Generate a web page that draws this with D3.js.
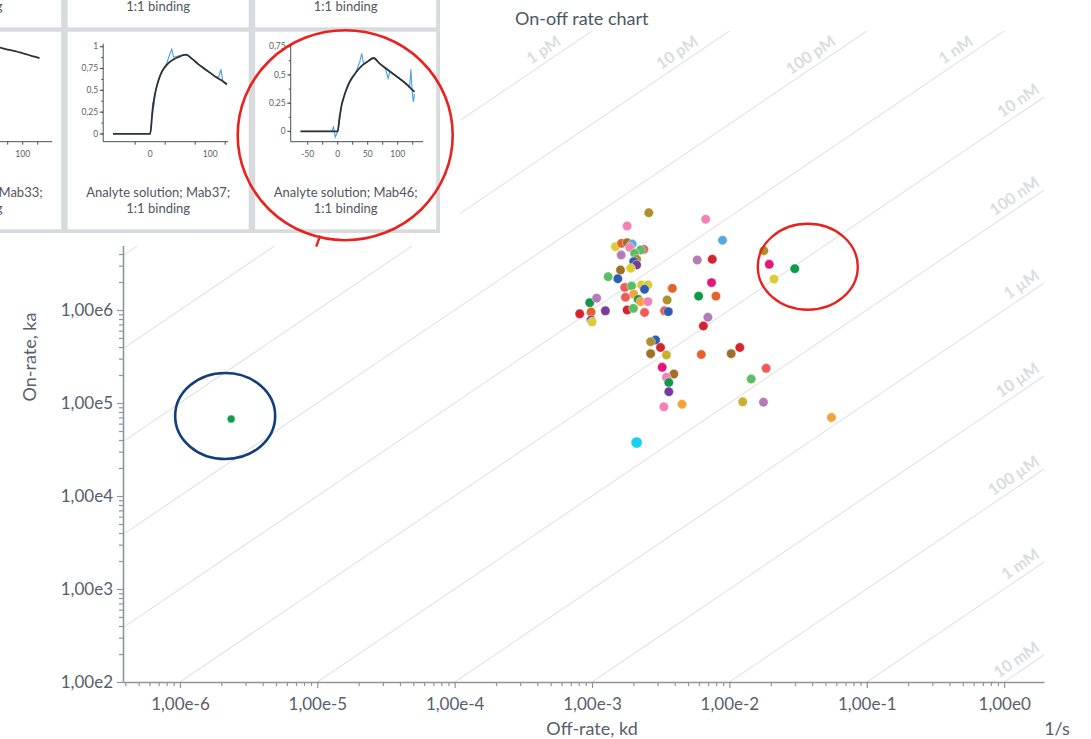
<!DOCTYPE html>
<html>
<head>
<meta charset="utf-8">
<script src="https://cdn.jsdelivr.net/npm/d3@7"></script>
<style>
  body { margin: 0; background: #ffffff; }
  svg { display: block; font-family: Lato, "Open Sans", sans-serif; }
</style>
</head>
<body>
<svg id="chart" width="1091" height="739"></svg>
<script>
// ---- Kinetic constants per sample: off-rate kd (1/s), on-rate ka (1/Ms) ----
const offRates = [2.59e-3, 1.80e-3, 6.72e-3, 8.91e-3, 1.48e-3, 1.64e-3, 1.80e-3, 1.96e-3, 1.88e-3, 2.38e-3,
  2.26e-3, 2.04e-3, 1.63e-3, 2.11e-3, 2.01e-3, 2.11e-3, 1.61e-3, 1.91e-3, 1.31e-3, 1.54e-3,
  1.73e-3, 1.94e-3, 2.29e-3, 2.55e-3, 2.41e-3, 2.01e-3, 1.75e-3, 2.17e-3, 2.26e-3, 2.55e-3,
  3.84e-3, 3.52e-3, 3.37e-3, 3.59e-3, 1.80e-3, 2.00e-3, 2.41e-3, 9.62e-4, 1.08e-3, 8.13e-4,
  9.84e-4, 1.25e-3, 9.84e-4, 1.00e-3, 5.83e-3, 7.50e-3, 7.41e-3, 5.97e-3, 7.98e-3, 6.97e-3,
  6.46e-3, 1.78e-2, 1.95e-2, 2.11e-2, 2.99e-2, 1.19e-2, 1.03e-2, 6.24e-3, 1.85e-2, 1.44e-2,
  1.25e-2, 1.77e-2, 5.53e-2, 2.90e-3, 2.67e-3, 3.15e-3, 2.67e-3, 3.48e-3, 3.24e-3, 3.94e-3,
  3.48e-3, 3.62e-3, 3.62e-3, 3.33e-3, 4.52e-3, 2.11e-3, 2.36e-6];

const onRates = [1.11e7, 8.0e6, 9.45e6, 5.62e6, 4.79e6, 5.21e6, 5.29e6, 5.12e6, 4.72e6, 4.49e6,
  4.42e6, 4.07e6, 3.90e6, 3.51e6, 3.31e6, 3.05e6, 2.69e6, 2.81e6, 2.28e6, 2.17e6,
  1.75e6, 1.81e6, 1.86e6, 1.86e6, 1.67e6, 1.48e6, 1.37e6, 1.30e6, 1.23e6, 1.23e6,
  1.71e6, 1.28e6, 9.8e5, 9.6e5, 1.0e6, 1.04e6, 9.4e5, 1.20e6, 1.34e6, 9.1e5,
  9.5e5, 9.8e5, 7.8e5, 7.43e5, 3.45e6, 3.51e6, 1.97e6, 1.41e6, 1.41e6, 8.35e5,
  6.73e5, 4.34e6, 3.10e6, 2.15e6, 2.78e6, 3.95e5, 3.39e5, 3.32e5, 2.36e5, 1.81e5,
  1.03e5, 1.02e5, 6.98e4, 4.76e5, 4.56e5, 3.95e5, 3.39e5, 3.28e5, 2.42e5, 2.05e5,
  1.89e5, 1.66e5, 1.32e5, 9.1e4, 9.7e4, 3.76e4, 6.73e4];

// colour group of each sample (index into groupColors)
const sampleGroup = [4, 12, 12, 9, 3, 1, 5, 9, 12, 14,
  7, 7, 11, 4, 8, 10, 5, 3, 7, 8,
  14, 7, 3, 3, 8, 2, 14, 6, 2, 12,
  1, 4, 14, 8, 0, 7, 14, 6, 11, 0,
  1, 10, 10, 3, 11, 0, 13, 6, 1, 11,
  0, 4, 13, 3, 6, 0, 5, 1, 14, 7,
  16, 11, 2, 8, 4, 0, 5, 16, 13, 5,
  12, 6, 10, 12, 2, 15, 6];

const groupColors = ["#d3252f", "#e5622a", "#f8a03a", "#dccb35", "#ad8f2c", "#a06f2a", "#0e9a48",
  "#5dbd66", "#2b5db2", "#5ba8df", "#773c9b", "#b47bb8", "#f282b4", "#e2177b", "#ef5b58", "#19cff2", "#c6b22e"];

// ---- Iso-affinity lines (KD = kd / ka, in M) ----
const affinityValues = [1e-13, 1e-12, 1e-11, 1e-10, 1e-9, 1e-8, 1e-7, 1e-6, 1e-5, 1e-4, 1e-3, 1e-2];
const affinityLabels = [null, "1 pM", "10 pM", "100 pM", "1 nM", "10 nM", "100 nM", "1 µM", "10 µM", "100 µM", "1 mM", "10 mM"];

// ---- Axes ----
const offRateDomain = [3.85e-7, 1.95];
const onRateDomain = [1e2, 1e9];
const xMajorTicks = [1e-6, 1e-5, 1e-4, 1e-3, 1e-2, 1e-1, 1e0];
const yMajorTicks = [1e2, 1e3, 1e4, 1e5, 1e6];

// ---- Sensorgram thumbnails (time in s, response normalised) ----
const sensorCaptions = ["Analyte solution; Mab33;", "Analyte solution; Mab37;", "Analyte solution; Mab46;"];
const sensorSubCaption = "1:1 binding";
const fitTime = [-62, 0, 3, 6, 10, 15, 20, 30, 40, 50, 60, 70, 80, 90, 100, 110, 120, 128];
const mab33Fit = [0, 0, 0.3, 0.5, 0.68, 0.82, 0.9, 0.95, 0.975, 0.99, 0.99, 0.975, 0.96, 0.945, 0.925, 0.905, 0.885, 0.87];
const mab37Fit = [0, 0, 0.2, 0.38, 0.52, 0.64, 0.72, 0.81, 0.86, 0.89, 0.91, 0.86, 0.8, 0.75, 0.7, 0.65, 0.61, 0.57];
const mab46Fit = [0, 0, 0.12, 0.22, 0.3, 0.38, 0.44, 0.52, 0.58, 0.62, 0.65, 0.6, 0.56, 0.52, 0.48, 0.44, 0.39, 0.35];
const mab37RawTime = [0, 2, 4, 6, 9, 14, 20, 27, 33, 36, 39, 45, 55, 62, 75, 90, 100, 108, 114, 118, 121, 124, 127];
const mab37RawResp = [0, 0.1, 0.36, 0.33, 0.5, 0.62, 0.73, 0.8, 0.92, 0.97, 0.88, 0.89, 0.91, 0.9, 0.83, 0.74, 0.7, 0.66, 0.65, 0.74, 0.6, 0.58, 0.56];
const mab46RawTime = [-62, -10, -7, -4, 0, 3, 7, 12, 20, 30, 37, 40, 43, 50, 60, 70, 80, 84, 87, 95, 105, 115, 120, 122, 124, 126, 128];
const mab46RawResp = [0, 0, 0.04, -0.05, 0.0, 0.1, 0.25, 0.33, 0.43, 0.52, 0.62, 0.69, 0.6, 0.62, 0.65, 0.6, 0.55, 0.47, 0.53, 0.5, 0.46, 0.42, 0.4, 0.55, 0.36, 0.26, 0.33];

// ======================================================================
const svg = d3.select("#chart");
const plot = { left: 123, right: 1044, top: 31, bottom: 682 };
const axisColor = "#8d969e";
const textColor = "#56606a";

const x = d3.scaleLog().domain(offRateDomain).range([plot.left, plot.right]);
const y = d3.scaleLog().domain(onRateDomain).range([plot.bottom, plot.top]);

const defs = svg.append("defs");
defs.append("clipPath").attr("id", "plot-clip")
  .append("rect").attr("x", plot.left).attr("y", plot.top)
  .attr("width", plot.right - plot.left).attr("height", plot.bottom - plot.top);

// iso-affinity diagonals
const [kdMin, kdMax] = offRateDomain;
const isoG = svg.append("g");
isoG.append("g").attr("clip-path", "url(#plot-clip)")
  .selectAll("line").data(affinityValues).join("line")
  .attr("x1", x(kdMin)).attr("y1", KD => y(kdMin / KD))
  .attr("x2", x(kdMax)).attr("y2", KD => y(kdMax / KD))
  .attr("stroke", "#e2e2e2").attr("stroke-width", 1.1);

const slopeAngle = Math.atan2(y(1e6) - y(1e5), x(1e-2) - x(1e-3)) * 180 / Math.PI;
const labelTop = plot.top + 18;
isoG.selectAll("text").data(affinityValues.map((v, i) => ({ v, label: affinityLabels[i] })).filter(d => d.label))
  .join("text")
  .attr("transform", d => {
    let px = x(y.invert(labelTop) * d.v), py = labelTop;
    if (px > plot.right) { px = plot.right; py = y(kdMax / d.v); }
    return `translate(${px},${py}) rotate(${slopeAngle})`;
  })
  .attr("dy", -6)
  .attr("text-anchor", "end")
  .attr("font-size", 16).attr("font-weight", 700)
  .attr("fill", "#dadcde")
  .text(d => d.label);

// axes
const fmt = v => d3.format(".2e")(v).replace(".", ",").replace("+", "");
const minorX = [], minorY = [];
for (let e = -7; e <= 0; e++) for (let k = 2; k <= 9; k++) {
  const v = k * Math.pow(10, e);
  if (v >= kdMin && v <= kdMax) minorX.push(v);
}
for (let e = 2; e <= 8; e++) for (let k = 2; k <= 9; k++) minorY.push(k * Math.pow(10, e));

function styleAxis(g) {
  g.attr("font-family", null).attr("font-size", null);
  g.select(".domain").attr("stroke", axisColor).attr("stroke-width", 1.6);
  g.selectAll(".tick line").attr("stroke", axisColor).attr("stroke-width", 1.2);
  g.selectAll(".tick text").attr("fill", textColor).attr("font-size", 17);
}

svg.append("g").attr("transform", `translate(0,${plot.bottom})`)
  .call(d3.axisBottom(x).tickValues(minorX).tickSize(4).tickSizeOuter(0).tickFormat(""))
  .call(styleAxis).call(g => g.select(".domain").remove());
svg.append("g").attr("transform", `translate(0,${plot.bottom})`)
  .call(d3.axisBottom(x).tickValues(xMajorTicks).tickSize(6).tickSizeOuter(0).tickPadding(10).tickFormat(fmt))
  .call(styleAxis);

svg.append("g").attr("transform", `translate(${plot.left},0)`)
  .call(d3.axisLeft(y).tickValues(minorY).tickSize(4).tickSizeOuter(0).tickFormat(""))
  .call(styleAxis).call(g => g.select(".domain").remove());
svg.append("g").attr("transform", `translate(${plot.left},0)`)
  .call(d3.axisLeft(y).tickValues(yMajorTicks).tickSize(6).tickSizeOuter(0).tickPadding(4).tickFormat(fmt))
  .call(styleAxis);

// axis titles
svg.append("text").attr("x", x(1e-3)).attr("y", 735).attr("text-anchor", "middle")
  .attr("font-size", 18).attr("fill", textColor).text("Off-rate, kd");
svg.append("text").attr("x", 1057).attr("y", 735).attr("text-anchor", "middle")
  .attr("font-size", 18).attr("fill", textColor).text("1/s");
svg.append("text").attr("transform", "translate(36,357) rotate(-90)").attr("text-anchor", "middle")
  .attr("font-size", 18).attr("fill", textColor).text("On-rate, ka");

// samples
const samples = offRates.map((kd, i) => ({ kd, ka: onRates[i], group: sampleGroup[i] }));
svg.append("g").selectAll("circle").data(samples).join("circle")
  .attr("cx", d => x(d.kd)).attr("cy", d => y(d.ka))
  .attr("r", d => d.group === 15 ? 5.6 : (d.kd < 1e-5 ? 3.9 : 4.7))
  .attr("fill", d => groupColors[d.group])
  .attr("stroke", "#ffffff").attr("stroke-opacity", 0.6).attr("stroke-width", 0.7);

// ---- Sensorgram thumbnail panel ----
const panel = { width: 440, height: 233.3 };
const card = { w: 181, h: 197.6, pitchX: 187.5, pitchY: 202, x0: 67.7, y0: 31.7 };
svg.append("rect").attr("x", 0).attr("y", 0).attr("width", 460).attr("height", 246).attr("fill", "#ffffff");
defs.append("clipPath").attr("id", "panel-clip")
  .append("rect").attr("width", panel.width).attr("height", panel.height);
const panelG = svg.append("g").attr("clip-path", "url(#panel-clip)");
panelG.append("rect").attr("width", panel.width).attr("height", panel.height).attr("fill", "#d7dbde");

const cards = [
  { col: -1, row: 0, caption: null },
  { col: 0, row: 0, caption: null },
  { col: 1, row: 0, caption: null },
  { col: -1, row: 1, caption: sensorCaptions[0], fit: mab33Fit, rawT: [], rawV: [], yMax: 1,
    yLabels: [0, 0.25, 0.5, 0.75, 1], xTickStep: 25, xLabels: [0, 100], xEnd: 172 },
  { col: 0, row: 1, caption: sensorCaptions[1], fit: mab37Fit, rawT: mab37RawTime, rawV: mab37RawResp, yMax: 1,
    yLabels: [0, 0.25, 0.5, 0.75, 1], xTickStep: 50, xLabels: [0, 100], xEnd: 160.5 },
  { col: 1, row: 1, caption: sensorCaptions[2], fit: mab46Fit, rawT: mab46RawTime, rawV: mab46RawResp, yMax: 0.75,
    yLabels: [0, 0.25, 0.5, 0.75], xTickStep: 25, xLabels: [-50, 0, 50, 100], xEnd: 168 }
];

const miniAxis = "#4a4f55";
const numFmt = v => String(v).replace(".", ",");
cards.forEach(c => {
  const cx = card.x0 + c.col * card.pitchX;
  const cy = card.y0 + (c.row - 1) * card.pitchY;
  const g = panelG.append("g").attr("transform", `translate(${cx},${cy})`);
  g.append("rect").attr("width", card.w).attr("height", card.h).attr("fill", "#ffffff");
  g.append("text").attr("x", card.w / 2).attr("y", 181.8).attr("text-anchor", "middle")
    .attr("font-size", 13).attr("fill", "#50565c").text(sensorSubCaption);
  if (!c.caption) return;
  g.append("text").attr("x", card.w / 2).attr("y", 165.8).attr("text-anchor", "middle")
    .attr("font-size", 13).attr("fill", "#50565c").text(c.caption);

  const axX = 35.5, axY = 110;
  const onPanel = px => cx + px > 4;     // skip labels lying wholly left of the panel
  const tx = d3.scaleLinear().domain([0, 100]).range([82.5, 142.5]);
  const ty = d3.scaleLinear().domain([-0.1, c.yMax]).range([111, 15]);
  // axes
  g.append("line").attr("x1", axX).attr("x2", axX).attr("y1", 12).attr("y2", axY)
    .attr("stroke", miniAxis).attr("stroke-width", 1);
  g.append("line").attr("x1", axX).attr("x2", c.xEnd).attr("y1", axY).attr("y2", axY)
    .attr("stroke", miniAxis).attr("stroke-width", 1);
  const yMinor = d3.range(0, c.yMax + 0.001, 0.125);
  g.selectAll(".ym").data(yMinor).join("line")
    .attr("x1", axX - 2).attr("x2", axX).attr("y1", d => ty(d)).attr("y2", d => ty(d))
    .attr("stroke", miniAxis);
  g.selectAll(".yl").data(c.yLabels).join("line")
    .attr("x1", axX - 3.5).attr("x2", axX).attr("y1", d => ty(d)).attr("y2", d => ty(d))
    .attr("stroke", miniAxis);
  g.selectAll(".yt").data(onPanel(axX - 5) ? c.yLabels : []).join("text")
    .attr("x", axX - 5).attr("y", d => ty(d)).attr("dy", "0.33em").attr("text-anchor", "end")
    .attr("font-size", 8.5).attr("fill", "#5a5f64").text(numFmt);
  const xTicks = d3.range(-75, 150, c.xTickStep).filter(t => tx(t) > axX + 2 && tx(t) <= c.xEnd);
  g.selectAll(".xt").data(xTicks).join("line")
    .attr("x1", d => tx(d)).attr("x2", d => tx(d)).attr("y1", axY).attr("y2", axY + 3)
    .attr("stroke", miniAxis);
  g.selectAll(".xl").data(c.xLabels.filter(t => onPanel(tx(t) + 6))).join("text")
    .attr("x", d => tx(d)).attr("y", axY + 15).attr("text-anchor", "middle")
    .attr("font-size", 8.5).attr("fill", "#5a5f64").text(d => d);
  // measured trace then fitted curve
  if (c.rawT.length) {
    g.append("path").datum(c.rawT.map((t, i) => [t, c.rawV[i]]))
      .attr("d", d3.line().x(d => tx(d[0])).y(d => ty(d[1])))
      .attr("fill", "none").attr("stroke", "#4a9fe0").attr("stroke-width", 1.1);
  }
  g.append("path").datum(fitTime.map((t, i) => [t, c.fit[i]]))
    .attr("d", d3.line().curve(d3.curveMonotoneX).x(d => tx(d[0])).y(d => ty(d[1])))
    .attr("fill", "none").attr("stroke", "#2d3136").attr("stroke-width", 1.8);
});

// ---- Title ----
svg.append("text").attr("x", 515).attr("y", 24.5).attr("font-size", 18).attr("fill", "#4b5763")
  .text("On-off rate chart");

// ---- Highlight rings ----
const highlightCard = { x: card.x0 + card.pitchX, y: card.y0 };
svg.append("ellipse").attr("cx", highlightCard.x + 90).attr("cy", highlightCard.y + 103.5)
  .attr("rx", 107.5).attr("ry", 105)
  .attr("fill", "none").attr("stroke", "#e8231f").attr("stroke-width", 2.6);
svg.append("line").attr("x1", highlightCard.x + 65).attr("y1", highlightCard.y + 204)
  .attr("x2", highlightCard.x + 61).attr("y2", highlightCard.y + 215)
  .attr("stroke", "#e8231f").attr("stroke-width", 2.4);

const fastOff = samples[54], slowOff = samples[76];
svg.append("ellipse").attr("cx", x(fastOff.kd) + 13).attr("cy", y(fastOff.ka) - 2)
  .attr("rx", 50).attr("ry", 43)
  .attr("fill", "none").attr("stroke", "#e8231f").attr("stroke-width", 2.4);
svg.append("ellipse").attr("cx", x(slowOff.kd) - 6).attr("cy", y(slowOff.ka) - 3)
  .attr("rx", 50).attr("ry", 43)
  .attr("fill", "none").attr("stroke", "#123f7c").attr("stroke-width", 2.6);
</script>
</body>
</html>
